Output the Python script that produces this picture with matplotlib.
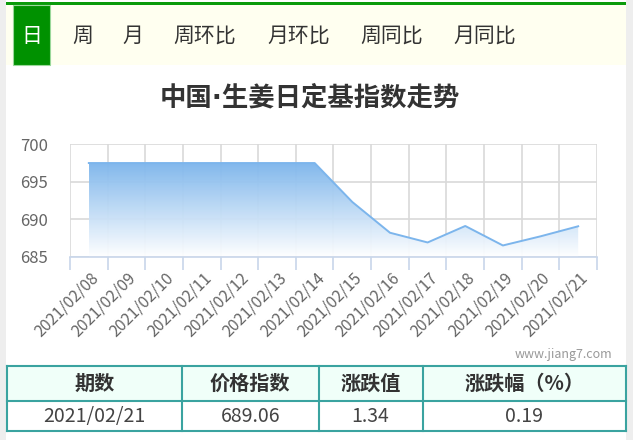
import numpy as np
import matplotlib
matplotlib.use('Agg')
import matplotlib.pyplot as plt
import matplotlib.transforms as mtransforms
from matplotlib.patches import Rectangle
from matplotlib.colors import to_rgb

plt.rcParams['font.family'] = ['Noto Sans CJK SC', 'DejaVu Sans']

# data
tabs = ['日', '周', '月', '周环比', '月环比', '周同比', '月同比']
dates = ['2021/02/08', '2021/02/09', '2021/02/10', '2021/02/11', '2021/02/12',
         '2021/02/13', '2021/02/14', '2021/02/15', '2021/02/16', '2021/02/17',
         '2021/02/18', '2021/02/19', '2021/02/20', '2021/02/21']
values = [697.5, 697.5, 697.5, 697.5, 697.5, 697.5, 697.5,
          692.3, 688.2, 686.9, 689.1, 686.5, 687.72, 689.06]
y_ticks = [685, 690, 695, 700]
table_header = ['期数', '价格指数', '涨跌值', '涨跌幅（%）']
table_row = ['2021/02/21', '689.06', '1.34', '0.19']

W, H = 633, 440
fig = plt.figure(figsize=(W / 100, H / 100), dpi=100)


def fx(x):
    return x / W


def fy(y):
    return 1 - y / H


def box(x0, y0, x1, y1, **kw):
    fig.patches.append(Rectangle((fx(x0), fy(y1)), fx(x1) - fx(x0), fy(y0) - fy(y1),
                                 transform=fig.transFigure, **kw))


# page frame
box(0, 0, 6, 440, facecolor='#eeeeee', edgecolor='none')
box(626, 0, 633, 440, facecolor='#eeeeee', edgecolor='none')
box(6, 2, 626, 5.5, facecolor='#0a9b0a', edgecolor='none')
box(6, 5.5, 626, 65, facecolor='#fffff0', edgecolor='none')
box(13, 5.5, 50, 65, facecolor='#009100', edgecolor='#9ad89a', linewidth=0.8)

# tabs
tab_x = [31.5, 82.5, 133, 205, 298.5, 391.5, 484.5]
for i, t in enumerate(tabs):
    fig.text(fx(tab_x[i]), fy(36), t, ha='center', va='center', fontsize=15,
             color='white' if i == 0 else '#333333')

# title (narrow middle dot from DejaVu)
fig.text(fx(310), fy(98), '中国·生姜日定基指数走势', ha='center', va='center',
         fontsize=19, fontweight='bold', color='#333333',
         family=['DejaVu Sans', 'Noto Sans CJK SC'])

# chart
ax = fig.add_axes([fx(70), fy(256.7), fx(597) - fx(70), fy(144.3) - fy(256.7)])
x = np.arange(len(dates))
ax.set_xlim(-0.5, len(dates) - 0.5)
ax.set_ylim(685, 700)

base = to_rgb('#7cb5ec')
top = max(values)
grad = np.zeros((256, 2, 4))
alpha = np.linspace(1, 0.0, 256)[:, None]
for c in range(3):
    grad[:, :, c] = base[c] * alpha + (1 - alpha)
grad[:, :, 3] = 0.95
im = ax.imshow(grad, extent=(x[0], x[-1], 685, top), origin='upper',
               aspect='auto', zorder=2)
poly = ax.fill_between(x, values, 685, facecolor='none', edgecolor='none')
im.set_clip_path(poly.get_paths()[0], transform=ax.transData)
ax.plot(x, values, color='#7cb5ec', linewidth=1.4, zorder=3)

ax.set_yticks(y_ticks)
ax.set_xticks(x)
ax.set_xticklabels(dates, rotation=45, ha='right', rotation_mode='anchor')
ax.set_xticks(np.arange(-0.5, len(dates)), minor=True)
ax.tick_params(axis='x', which='major', length=0, pad=9, labelsize=11.5,
               labelcolor='#666666')
ax.tick_params(axis='x', which='minor', length=9.5, color='#c8d6ea', width=1.2)
ax.tick_params(axis='y', length=0, pad=16, labelsize=12, labelcolor='#666666')
shift = mtransforms.ScaledTranslation(1 / 100, 0, fig.dpi_scale_trans)
for lab in ax.get_xticklabels():
    lab.set_transform(lab.get_transform() + shift)
ax.grid(True, axis='y', color='#d9d9d9', linewidth=1.2, zorder=0)
ax.grid(True, axis='x', which='minor', color='#d9d9d9', linewidth=1.2, zorder=0)
ax.set_axisbelow(True)
for s in ['top', 'left', 'right']:
    ax.spines[s].set_visible(False)
ax.spines['bottom'].set_color('#c8d6ea')
ax.spines['bottom'].set_linewidth(1.2)
ax.spines['bottom'].set_zorder(4)

# watermark
fig.text(fx(612), fy(354), 'www.jiang7.com', ha='right', va='center',
         fontsize=9, color='#999999')

# table
col_x = [6.5, 182, 318.5, 422.5, 626]
row_y = [366, 401, 431]
border = '#3aa3a0'
box(col_x[0], row_y[0], col_x[-1], row_y[1], facecolor='#f0fff9', edgecolor='none')
for cx in col_x:
    fig.add_artist(plt.Line2D([fx(cx), fx(cx)], [fy(row_y[0]), fy(row_y[-1])],
                              color=border, linewidth=1.5, transform=fig.transFigure))
for ry in row_y:
    fig.add_artist(plt.Line2D([fx(col_x[0]), fx(col_x[-1])], [fy(ry), fy(ry)],
                              color=border, linewidth=1.5, transform=fig.transFigure))
for i in range(4):
    cx = (col_x[i] + col_x[i + 1]) / 2
    fig.text(fx(cx), fy(383.5), table_header[i], ha='center', va='center',
             fontsize=14.5, fontweight='bold', color='#333333')
    fig.text(fx(cx), fy(416), table_row[i], ha='center', va='center',
             fontsize=14, color='#444444')

fig.savefig('out.png', dpi=100)
